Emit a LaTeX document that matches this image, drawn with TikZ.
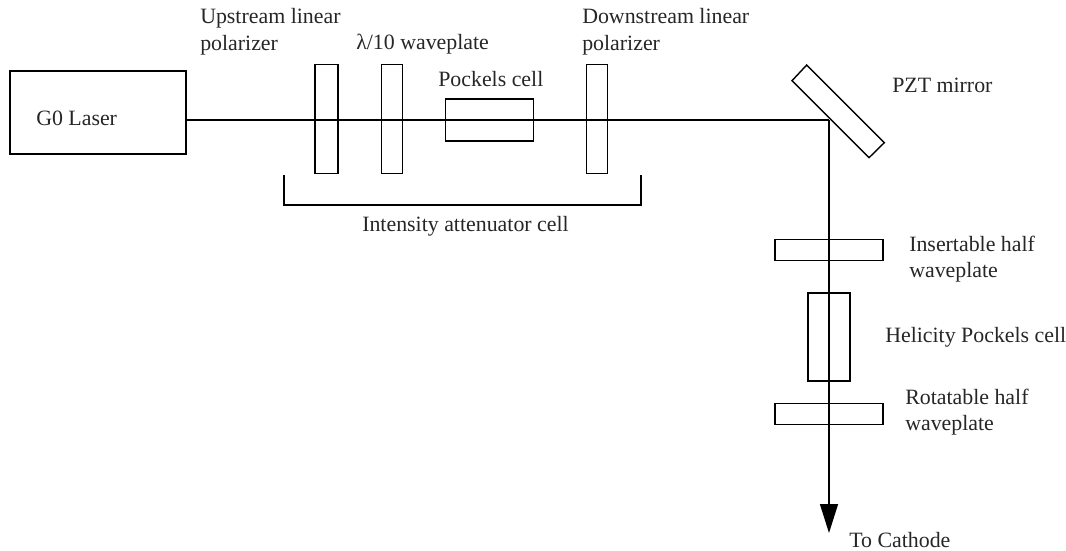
\documentclass[tikz,border=0pt]{standalone}
\usepackage{fontspec}
\setmainfont{Liberation Serif}
\usetikzlibrary{arrows.meta}
\tikzset{
  optic/.style={draw=black,line width=1.05pt,fill=none,inner sep=0pt,minimum width=#1},
  lbl/.style={font=\fontsize{16.4pt}{20pt}\selectfont,inner sep=0pt,anchor=west,align=left,text=black!85},
  beam/.style={line width=1.05pt,draw=black}
}
\begin{document}
\begin{tikzpicture}[x=0.75pt,y=-0.75pt]
\useasboundingbox (0,0) rectangle (1066,550);
\node[optic=176pt*0.75,minimum height=83pt*0.75] (laser) at (98,112.5) {};
\node[lbl] (laserT) at (36,118) {G0 Laser};
\node[optic=23pt*0.75,minimum height=109pt*0.75] (up) at (326.5,119) {};
\node[optic=21pt*0.75,minimum height=109pt*0.75] (wave) at (392,119) {};
\node[optic=88pt*0.75,minimum height=42pt*0.75] (pc) at (489.5,120) {};
\node[optic=21pt*0.75,minimum height=109pt*0.75] (down) at (597,119) {};
\coordinate (turn) at (829,120);
\coordinate (cath) at (829,533);
\draw[beam] (laser.east |- turn) -- (turn);
\draw[beam] (792,80.7) coordinate (m1) -- (806.7,65) -- (884.3,142.7) -- (869,157.7) -- cycle;
\node[optic=108pt*0.75,minimum height=21pt*0.75] (ins) at (829,250) {};
\node[optic=42pt*0.75,minimum height=88pt*0.75] (hel) at (829,337) {};
\node[optic=108pt*0.75,minimum height=21pt*0.75] (rot) at (829,414) {};
\draw[beam,-{Triangle[length=29pt*0.75,width=18pt*0.75]}] (turn) -- (cath);
\draw[beam] (284,175) coordinate (b1) -- (284,205) coordinate (b2) -- (641,205) coordinate (b3) -- (641,175) coordinate (b4);
\node[lbl] (t1) at (200,32) {Upstream linear\\polarizer};
\node[lbl] (t2) at (356,44) {λ/10 waveplate};
\node[lbl] (t3) at (438,79) {Pockels cell};
\node[lbl] (t4) at (582,32) {Downstream linear\\polarizer};
\node[lbl] (t5) at (892,85) {PZT mirror};
\node[lbl] (t6) at (362,226) {Intensity attenuator cell};
\node[lbl] (t7) at (909,259) {Insertable half\\waveplate};
\node[lbl] (t8) at (885,337) {Helicity Pockels cell};
\node[lbl] (t9) at (905,412) {Rotatable half\\waveplate};
\node[lbl] (t10) at (849,540) {To Cathode};
\end{tikzpicture}
\end{document}
